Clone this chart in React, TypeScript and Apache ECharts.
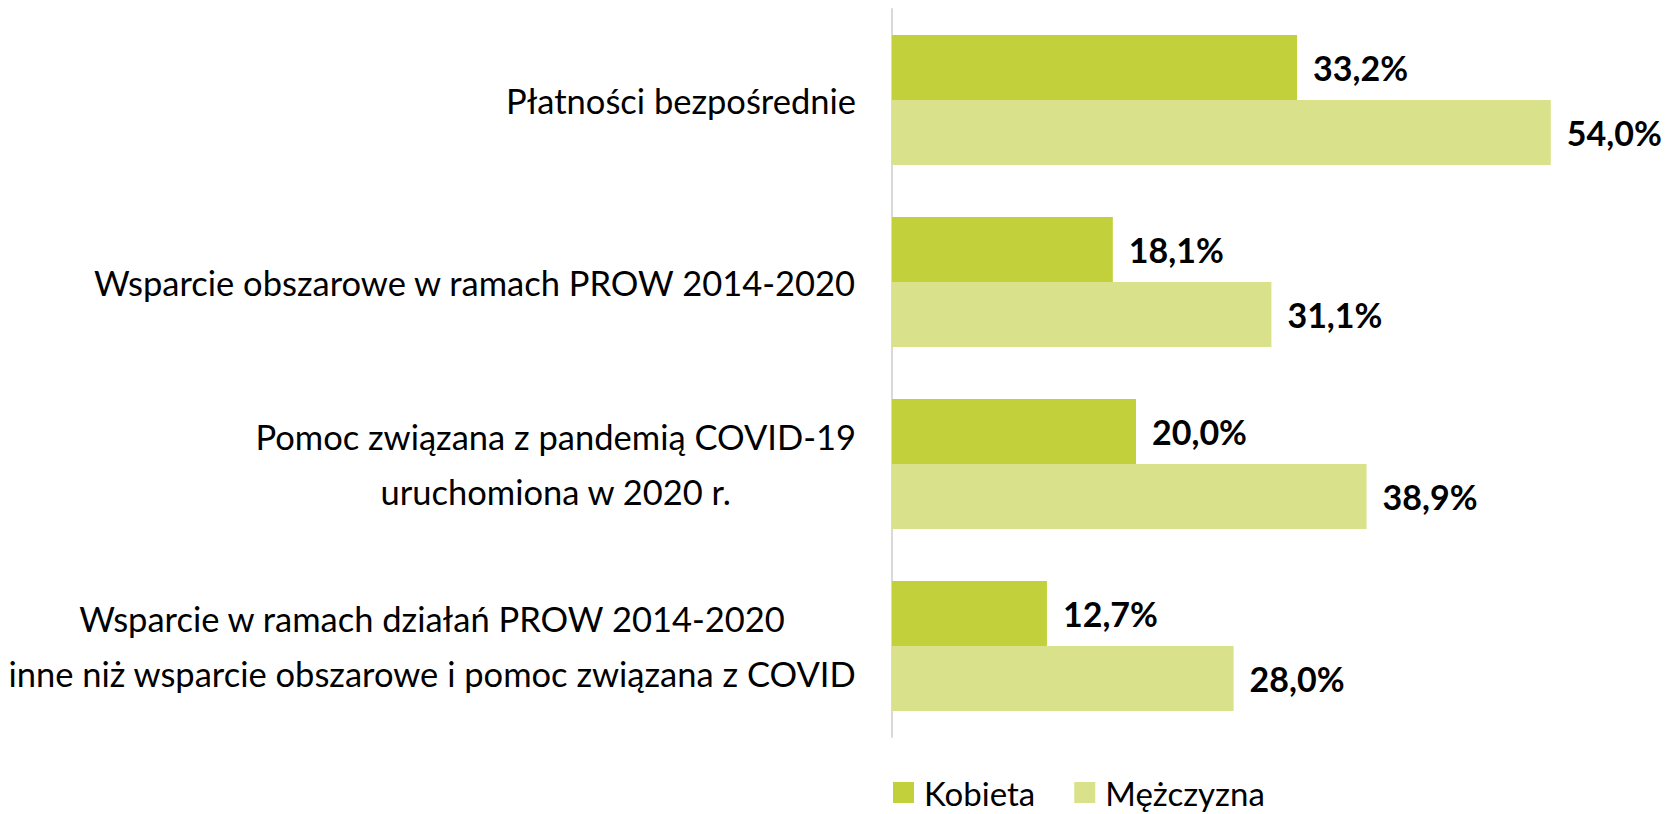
import React, { useEffect, useRef } from "react";
import * as echarts from "echarts";

const categories = [
  ["Płatności bezpośrednie"],
  ["Wsparcie obszarowe w ramach PROW 2014-2020"],
  ["Pomoc związana z pandemią COVID-19", "uruchomiona w 2020 r."],
  ["Wsparcie w ramach działań PROW 2014-2020", "inne niż wsparcie obszarowe i pomoc związana z COVID"],
];
const seriesNames = ["Kobieta", "Mężczyzna"];
const kobieta = [33.2, 18.1, 20.0, 12.7];
const mezczyzna = [54.0, 31.1, 38.9, 28.0];
const colors = ["#C2D03B", "#D9E28B"];

const FONT = "Lato";

export default function App() {
  const ref = useRef<HTMLDivElement>(null);
  useEffect(() => {
    document.body.style.margin = "0";
    const chart = echarts.init(ref.current!, null, { renderer: "svg" });
    const catKeys = categories.map((c) => c.join("\n"));
    const fmt = (v: number) => v.toFixed(1).replace(".", ",") + "%";
    const valueLabel = {
      show: true,
      position: "right",
      distance: 16,
      formatter: (p: any) => fmt(p.value),
      fontFamily: FONT,
      fontWeight: "bold",
      fontSize: 34,
      color: "#000000",
    };
    chart.setOption({
      animation: false,
      backgroundColor: "#ffffff",
      grid: { left: 892, top: 9, bottom: 77, right: 41, containLabel: false },
      xAxis: {
        type: "value",
        min: 0,
        max: 60,
        show: false,
        splitLine: { show: false },
      },
      yAxis: {
        type: "category",
        inverse: true,
        data: catKeys,
        axisTick: { show: false },
        axisLine: { show: true, lineStyle: { color: "#d9d9d9", width: 2 } },
        axisLabel: {
          margin: 36,
          align: "right",
          formatter: (v: string) =>
            v
              .split("\n")
              .map((l) => "{c|" + l + "}")
              .join("\n"),
          rich: {
            c: {
              align: "center",
              fontFamily: FONT,
              fontSize: 34.5,
              color: "#000000",
              lineHeight: 55,
            },
          },
        },
      },
      legend: {
        data: seriesNames,
        left: 888,
        top: 771,
        icon: "rect",
        itemWidth: 21,
        itemHeight: 21,
        itemGap: 39,
        textStyle: {
          fontFamily: FONT,
          fontSize: 33,
          color: "#000000",
          padding: [0, 0, 0, 5],
        },
      },
      series: [
        {
          name: seriesNames[0],
          type: "bar",
          data: kobieta,
          barWidth: 65,
          barGap: "0%",
          itemStyle: { color: colors[0] },
          label: valueLabel,
        },
        {
          name: seriesNames[1],
          type: "bar",
          data: mezczyzna,
          barWidth: 65,
          barGap: "0%",
          itemStyle: { color: colors[1] },
          label: valueLabel,
        },
      ],
    });
    return () => chart.dispose();
  }, []);
  return (
    <div
      ref={ref}
      style={{ position: "absolute", left: 0, top: 0, width: 1665, height: 814 }}
    />
  );
}
